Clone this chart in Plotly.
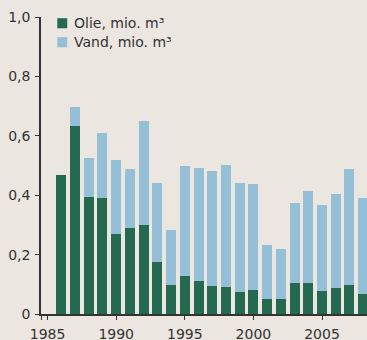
import plotly.graph_objects as go

# Annual production, million m³
years = list(range(1986, 2009))
olie = [0.468, 0.633, 0.394, 0.390, 0.269, 0.290, 0.300, 0.175, 0.098, 0.128,
        0.111, 0.094, 0.091, 0.074, 0.081, 0.050, 0.050, 0.104, 0.104, 0.077,
        0.088, 0.098, 0.067]
total = [0.468, 0.697, 0.525, 0.609, 0.518, 0.488, 0.650, 0.441, 0.283, 0.498,
         0.492, 0.483, 0.502, 0.441, 0.438, 0.232, 0.219, 0.374, 0.414, 0.367,
         0.404, 0.488, 0.390]
vand = [round(t - o, 3) for t, o in zip(total, olie)]

series_names = ["Olie, mio. m³", "Vand, mio. m³"]
series_colors = ["#256a50", "#94bfd7"]

y_ticks = [0, 0.2, 0.4, 0.6, 0.8, 1.0]
y_ticktext = ["0", "0,2", "0,4", "0,6", "0,8", "1,0"]
x_ticks = [1985, 1990, 1995, 2000, 2005]
x_ticktext = [str(v) for v in x_ticks]

x_range = [1984.52, 2008.28]

bg = "#ebe6e0"
ink = "#333333"
font = dict(family="DejaVu Sans", size=14, color=ink)

fig = go.Figure()
for name, vals, col in zip(series_names, [olie, vand], series_colors):
    fig.add_trace(go.Bar(x=years, y=vals, name=name, marker_color=col,
                         marker_line_width=0, showlegend=False))

# Legend drawn as swatches + labels
for i, (name, col) in enumerate(zip(series_names, series_colors)):
    y0 = 1.0 - 0.004 - i * 0.064
    fig.add_shape(type="rect", xref="paper", yref="y",
                  x0=0.05, x1=0.0805, y0=y0 - 0.034, y1=y0,
                  fillcolor=col, line_width=0)
    fig.add_annotation(xref="paper", yref="y", x=0.095, y=y0 - 0.017,
                       text=name, showarrow=False, xanchor="left",
                       yanchor="middle", font=font)

fig.update_layout(
    width=367, height=340,
    margin=dict(l=41, r=0, t=17, b=26),
    paper_bgcolor=bg, plot_bgcolor=bg,
    barmode="stack", bargap=0.27,
    font=font,
    # an unlabeled tick at the left end carries the vertical axis line below the baseline
    xaxis=dict(range=x_range, tickvals=[x_range[0]] + x_ticks,
               ticktext=[""] + x_ticktext, ticks="outside",
               ticklen=4, tickcolor=ink, showline=True, linecolor=ink,
               linewidth=1.5, showgrid=False, zeroline=False,
               ticklabelstandoff=2, automargin=False),
    yaxis=dict(range=[0, 1.0], tickvals=y_ticks, ticktext=y_ticktext,
               ticks="outside", ticklen=4, tickcolor=ink, showline=True,
               linecolor=ink, linewidth=1.5, showgrid=False, zeroline=False,
               ticklabelstandoff=2, automargin=False),
)

fig.write_html("out.html")
